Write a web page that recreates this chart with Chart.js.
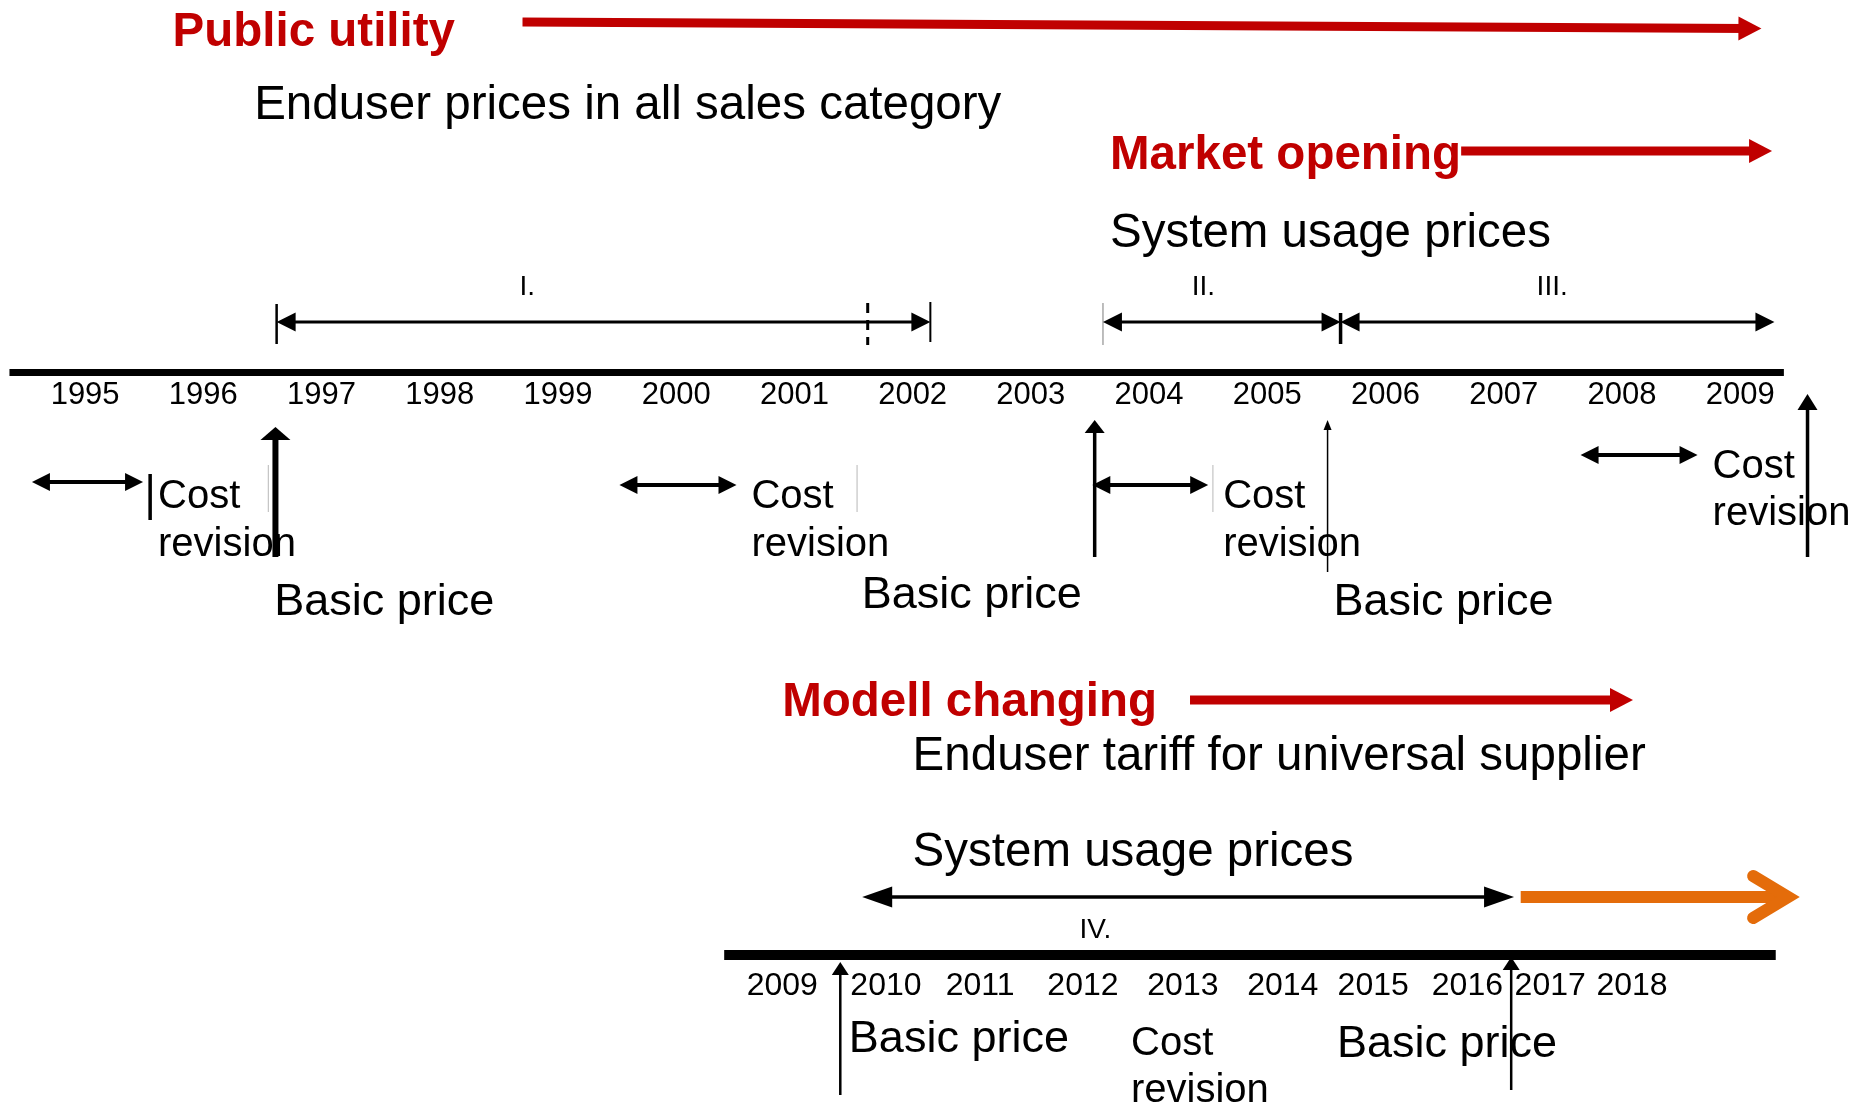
<!DOCTYPE html>
<html lang="en">
<head>
<meta charset="UTF-8">
<title>Tariff regulation timeline</title>
<script src="https://cdn.jsdelivr.net/npm/chart.js"></script>
<style>
  html, body { margin: 0; padding: 0; background: #fff; }
  #wrap { width: 1869px; height: 1104px; }
</style>
</head>
<body>
<div id="wrap"><canvas id="timeline" width="1869" height="1104"></canvas></div>
<script>
// ---- data (x values are years on each timeline) ----
const topYears = [1995, 1996, 1997, 1998, 1999, 2000, 2001, 2002, 2003, 2004, 2005, 2006, 2007, 2008, 2009];
const bottomYears = [2009, 2010, 2011, 2012, 2013, 2014, 2015, 2016, 2017, 2018];
// the lower year labels are not evenly spaced in the original
const bottomTickAt = [2008.88, 2009.97, 2010.96, 2012.04, 2013.09, 2014.14, 2015.09, 2016.08, 2016.95, 2017.81];

const topSpan = [1994.36, 2009.37];
const bottomSpan = [2008.27, 2019.32];

// regulation periods
const phaseNames = ['I.', 'II.', 'III.'];
const phaseFrom = [1996.62, 2003.61, 2005.62];
const phaseTo = [2002.15, 2005.62, 2009.29];
const phaseLabelAt = [1998.74, 2004.46, 2007.41];
const phaseISplit = 2001.62;
const phaseIV = [2009.72, 2016.57];
const phaseIVLabelAt = 2012.17;
const outlook = [2016.64, 2019.45];

// cost revisions (top timeline)
const costFrom = [1994.55, 1999.52, 2003.52, 2007.65];
const costTo = [1995.49, 2000.51, 2004.50, 2008.64];
const costMark = 1995.55;
const frameMarks = [1996.55, 2001.53, 2004.54];
const costLabelAtB = 2012.545;

// basic price settings
const basicArrowAt = [1996.61, 2003.54, 2005.51, 2009.57];
const basicLabelAt = [1996.60, 2001.57, 2005.56];
const basicArrowAtB = [2009.49, 2016.54];
const basicLabelAtB = [2009.58, 2014.71];

// eras
const eraNames = ['Public utility', 'Market opening', 'Modell changing'];
const eraAxis = ['x', 'x', 'xb'];
const eraLabelAt = [1995.74, 2003.67, 2008.88];
const eraFrom = [1998.70, 2006.64, 2013.165];
const eraTo = [2009.18, 2009.27, 2017.82];
const eraCaptions = [
  ['x', 1996.43, 'Enduser prices in all sales category'],
  ['x', 2003.67, 'System usage prices'],
  ['xb', 2010.25, 'Enduser tariff for universal supplier'],
  ['xb', 2010.25, 'System usage prices']
];

// ---- layout (vertical rows in px, sizes, colours) ----
const L = {
  topAxis: 372.5, bottomAxis: 955,
  eraY: [[22, 28.5], [151, 151], [700, 700]],
  eraLabelY: [33, 156, 703],
  captionY: [106, 234, 757, 853],
  phaseY: 322, phaseLabelY: 287, phaseIVY: 897, phaseIVLabelY: 930,
  costY: [482, 485, 485, 455],
  costTextY: [[497, 545], [497, 545], [497, 545], [467, 514]],
  costTextYB: [1044, 1091],
  basicTip: [427, 420, 420, 394], basicTail: [557, 557, 572, 557],
  basicW: [6, 3.5, 1.5, 3.5],
  basicHead: [[13, 30], [13, 20], [10, 8], [16, 20]],
  basicLabelY: [603, 596, 603],
  basicTipB: [962, 957], basicTailB: [1095, 1090],
  basicLabelYB: [1040, 1045]
};
const RED = '#c00000';
const ORANGE = '#e46c0a';
const FONT = "'Liberation Sans', Arial, Helvetica, sans-serif";

const datasets = [];
function seg(axis, x0, y0, x1, y1, st) {
  datasets.push(Object.assign({
    type: 'line', xAxisID: axis, yAxisID: 'y',
    data: [{x: x0, y: y0}, {x: x1, y: y1}],
    borderColor: '#000', borderWidth: 2, pointRadius: 0, pointHoverRadius: 0, fill: false
  }, st));
}

// timelines
seg('x', topSpan[0], L.topAxis, topSpan[1], L.topAxis, {borderWidth: 7});
seg('xb', bottomSpan[0], L.bottomAxis, bottomSpan[1], L.bottomAxis, {borderWidth: 10});

// era arrows
eraNames.forEach((n, i) => {
  seg(eraAxis[i], eraFrom[i], L.eraY[i][0], eraTo[i], L.eraY[i][1],
    {borderColor: RED, borderWidth: 9, arrow: {end: [23, 24]}});
});

// periods
phaseNames.forEach((n, i) => {
  seg('x', phaseFrom[i], L.phaseY, phaseTo[i], L.phaseY,
    {borderWidth: 3, arrow: {start: [19, 19], end: [19, 19]}});
});
seg('x', phaseFrom[0], 304, phaseFrom[0], 344, {borderWidth: 2.5});
seg('x', phaseTo[0], 302, phaseTo[0], 342, {borderWidth: 2});
seg('x', phaseISplit, 303, phaseISplit, 345, {borderWidth: 3, borderDash: [10, 7]});
seg('x', phaseFrom[1], 303, phaseFrom[1], 345, {borderWidth: 1, borderColor: '#b4b4b4'});
seg('x', phaseTo[1], 313, phaseTo[1], 344, {borderWidth: 3.5});
seg('xb', phaseIV[0], L.phaseIVY, phaseIV[1], L.phaseIVY,
  {borderWidth: 3.5, arrow: {start: [30, 21], end: [30, 21]}});
seg('xb', outlook[0], L.phaseIVY, outlook[1], L.phaseIVY,
  {borderColor: ORANGE, borderWidth: 12, arrow: {chevron: [35, 21]}});

// cost revisions
costFrom.forEach((v, i) => {
  seg('x', v, L.costY[i], costTo[i], L.costY[i],
    {borderWidth: 4, arrow: {start: [18, 18], end: [18, 18]}});
});
seg('x', costMark, 474, costMark, 520, {borderWidth: 3.5});
frameMarks.forEach(v => seg('x', v, 465, v, 512, {borderWidth: 1.2, borderColor: '#c4c4c4'}));

// basic price arrows
basicArrowAt.forEach((v, i) => {
  seg('x', v, L.basicTail[i], v, L.basicTip[i],
    {borderWidth: L.basicW[i], arrow: {end: L.basicHead[i]}});
});
basicArrowAtB.forEach((v, i) => {
  seg('xb', v, L.basicTailB[i], v, L.basicTipB[i],
    {borderWidth: 2.5, arrow: {end: [13, 17]}});
});

// ---- texts ----
const texts = [];
function txt(axis, x, y, t, size, opt) {
  texts.push(Object.assign({axis, x, y, t, size, bold: false, color: '#000', align: 'left', dx: 0}, opt || {}));
}
eraNames.forEach((n, i) => txt(eraAxis[i], eraLabelAt[i], L.eraLabelY[i], n, 47.5, {bold: true, color: RED}));
eraCaptions.forEach((c, i) => txt(c[0], c[1], L.captionY[i], c[2], 47.5));
phaseNames.forEach((n, i) => txt('x', phaseLabelAt[i], L.phaseLabelY, n, 28, {align: 'center'}));
txt('xb', phaseIVLabelAt, L.phaseIVLabelY, 'IV.', 28, {align: 'center'});
costTo.forEach((v, i) => {
  txt('x', v, L.costTextY[i][0], 'Cost', 40, {dx: 15});
  txt('x', v, L.costTextY[i][1], 'revision', 40, {dx: 15});
});
txt('xb', costLabelAtB, L.costTextYB[0], 'Cost', 40);
txt('xb', costLabelAtB, L.costTextYB[1], 'revision', 40);
basicLabelAt.forEach((v, i) => txt('x', v, L.basicLabelY[i], 'Basic price', 45));
basicLabelAtB.forEach((v, i) => txt('xb', v, L.basicLabelYB[i], 'Basic price', 45));

function drawArrow(ctx, a, b, ds) {
  const ar = ds.arrow;
  const dx = b.x - a.x, dy = b.y - a.y, len = Math.hypot(dx, dy);
  const ux = dx / len, uy = dy / len, nx = -uy, ny = ux;
  const s0 = ar.start ? ar.start[0] * 0.6 : 0;
  const s1 = ar.end ? ar.end[0] * 0.6 : 0;
  ctx.save();
  ctx.strokeStyle = ds.borderColor;
  ctx.fillStyle = ds.borderColor;
  ctx.lineWidth = ds.borderWidth;
  ctx.lineCap = 'butt';
  ctx.beginPath();
  ctx.moveTo(a.x + ux * s0, a.y + uy * s0);
  ctx.lineTo(b.x - ux * s1, b.y - uy * s1);
  ctx.stroke();
  const head = (p, sx, sy, h) => {
    ctx.beginPath();
    ctx.moveTo(p.x, p.y);
    ctx.lineTo(p.x - sx * h[0] + nx * h[1] / 2, p.y - sy * h[0] + ny * h[1] / 2);
    ctx.lineTo(p.x - sx * h[0] - nx * h[1] / 2, p.y - sy * h[0] - ny * h[1] / 2);
    ctx.closePath();
    ctx.fill();
  };
  if (ar.end) head(b, ux, uy, ar.end);
  if (ar.start) head(a, -ux, -uy, ar.start);
  if (ar.chevron) {
    const [back, half] = ar.chevron;
    ctx.lineCap = 'round';
    ctx.lineJoin = 'miter';
    ctx.beginPath();
    ctx.moveTo(b.x - ux * back + nx * half, b.y - uy * back + ny * half);
    ctx.lineTo(b.x, b.y);
    ctx.lineTo(b.x - ux * back - nx * half, b.y - uy * back - ny * half);
    ctx.stroke();
  }
  ctx.restore();
}

const arrowPlugin = {
  id: 'arrows',
  beforeDatasetDraw(chart, args) {
    const ds = chart.data.datasets[args.index];
    if (!ds.arrow) return;
    const pts = args.meta.data;
    drawArrow(chart.ctx, pts[0], pts[1], ds);
    return false;
  },
  afterDraw(chart) {
    const ctx = chart.ctx;
    const ys = chart.scales.y;
    ctx.save();
    ctx.textBaseline = 'middle';
    texts.forEach(o => {
      ctx.font = (o.bold ? 'bold ' : '') + o.size + 'px ' + FONT;
      ctx.fillStyle = o.color;
      ctx.textAlign = o.align;
      ctx.fillText(o.t, chart.scales[o.axis].getPixelForValue(o.x) + o.dx, ys.getPixelForValue(o.y));
    });
    ctx.restore();
  }
};

const yearAxis = (min, max, tickAt, labels, rowY, size, pad) => ({
  type: 'linear', min, max,
  position: {y: rowY},
  grid: {display: false, drawTicks: false},
  border: {display: false},
  ticks: {
    color: '#000', font: {family: FONT, size}, padding: pad,
    autoSkip: false, maxRotation: 0, minRotation: 0,
    callback: (v, i) => String(labels[i])
  },
  afterBuildTicks: s => { s.ticks = tickAt.map(v => ({value: v})); }
});

new Chart(document.getElementById('timeline'), {
  type: 'line',
  data: {datasets},
  options: {
    responsive: false,
    animation: false,
    events: [],
    layout: {padding: 0},
    plugins: {legend: {display: false}, tooltip: {enabled: false}},
    scales: {
      x: yearAxis(1994.28, 2010.09, topYears, topYears, L.topAxis, 31, 4),
      xb: yearAxis(2000.66, 2020.30, bottomTickAt, bottomYears, L.bottomAxis, 32, 12),
      y: {type: 'linear', min: 0, max: 1104, reverse: true, display: false}
    }
  },
  plugins: [arrowPlugin]
});
</script>
</body>
</html>
